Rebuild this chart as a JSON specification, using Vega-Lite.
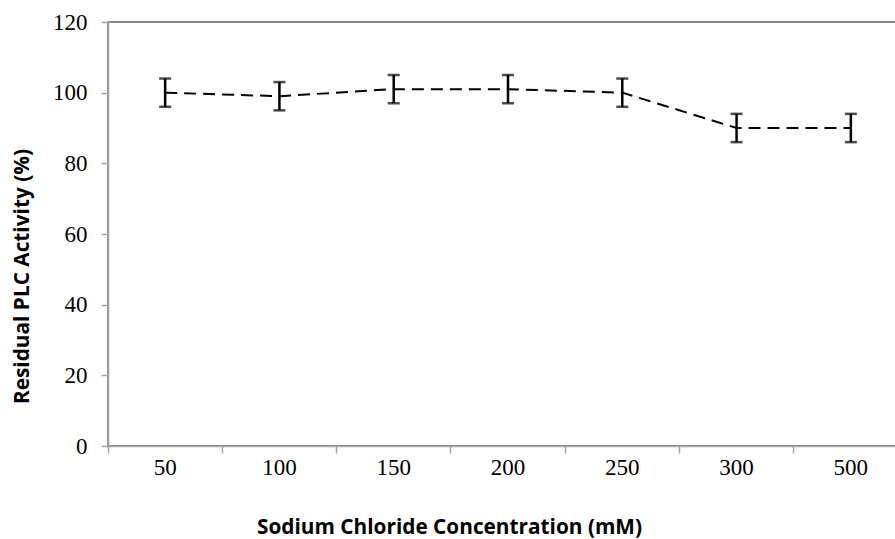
{
  "$schema": "https://vega.github.io/schema/vega-lite/v6.json",
  "autosize": {"type": "none"},
  "padding": {"left": 108, "top": 22, "right": 0, "bottom": 93},
  "width": 800,
  "height": 424,
  "background": "white",
  "config": {
    "view": {"stroke": "#666666", "strokeWidth": 1.5},
    "axis": {"grid": false, "domainColor": "#a6a6a6", "domainWidth": 1.5, "tickColor": "#a6a6a6", "tickWidth": 1.5, "tickSize": 7, "labelColor": "#000000", "labelFont": "Liberation Serif", "labelFontSize": 23, "titleColor": "#000000", "titleFont": "Open Sans", "titleFontWeight": "bold", "titleFontSize": 20.8}
  },
  "data": {
    "values": [
      {"conc": "50", "activity": 100, "lo": 96, "hi": 104},
      {"conc": "100", "activity": 99, "lo": 95, "hi": 103},
      {"conc": "150", "activity": 101, "lo": 97, "hi": 105},
      {"conc": "200", "activity": 101, "lo": 97, "hi": 105},
      {"conc": "250", "activity": 100, "lo": 96, "hi": 104},
      {"conc": "300", "activity": 90, "lo": 86, "hi": 94},
      {"conc": "500", "activity": 90, "lo": 86, "hi": 94}
    ]
  },
  "encoding": {
    "x": {
      "field": "conc", "type": "ordinal", "sort": null,
      "scale": {"type": "band", "paddingInner": 0, "paddingOuter": 0},
      "axis": {"bandPosition": 0, "labelAngle": 0, "labelPadding": 3, "title": "Sodium Chloride Concentration (mM)", "titleX": 341, "titleY": 81, "titleAnchor": null, "titleAlign": "center", "titleBaseline": "middle"}
    }
  },
  "layer": [
    {
      "mark": {"type": "line", "color": "#000000", "strokeWidth": 2, "strokeDash": [12, 7]},
      "encoding": {
        "y": {"field": "activity", "type": "quantitative", "scale": {"domain": [0, 120]},
          "axis": {"values": [0, 20, 40, 60, 80, 100, 120], "labelPadding": 14, "title": "Residual PLC Activity (%)", "titleAngle": -90, "titleX": -86, "titleY": 254, "titleAlign": "center", "titleBaseline": "middle"}}
      }
    },
    {
      "mark": {"type": "rule", "color": "#000000", "strokeWidth": 2.5},
      "encoding": {
        "y": {"field": "lo", "type": "quantitative"},
        "y2": {"field": "hi"}
      }
    },
    {
      "mark": {"type": "tick", "color": "#000000", "thickness": 2.5, "size": 12, "orient": "horizontal"},
      "encoding": {
        "y": {"field": "lo", "type": "quantitative"}
      }
    },
    {
      "mark": {"type": "tick", "color": "#000000", "thickness": 2.5, "size": 12, "orient": "horizontal"},
      "encoding": {
        "y": {"field": "hi", "type": "quantitative"}
      }
    }
  ]
}
